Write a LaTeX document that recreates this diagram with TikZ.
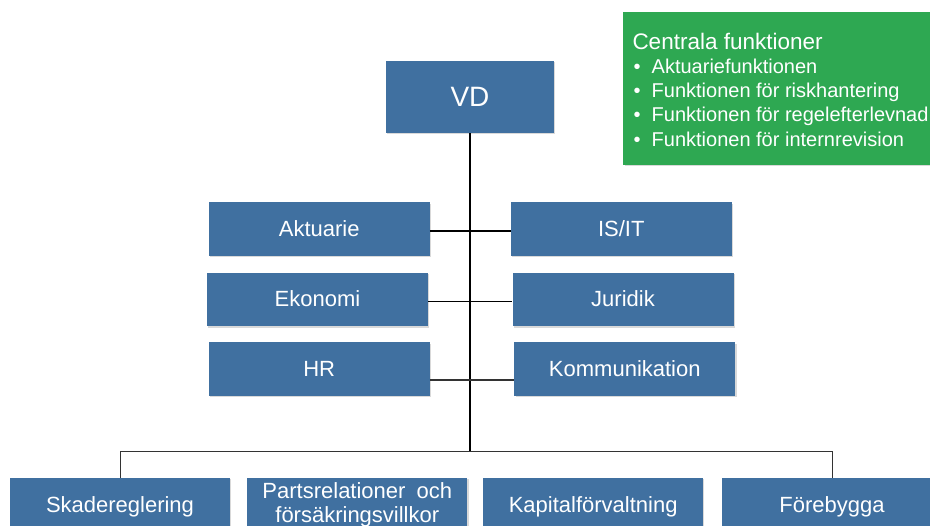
\documentclass[tikz,border=0pt]{standalone}
\usepackage{fontspec}
\setmainfont{Liberation Sans}
\usetikzlibrary{shadows}

\definecolor{boxblue}{RGB}{64,112,160}
\definecolor{boxgreen}{RGB}{46,168,82}

\tikzset{
  softshadow/.style={drop shadow={shadow xshift=1.2pt, shadow yshift=-1.5pt, opacity=0.15, fill=black}},
  unit/.style={fill=boxblue, text=white, inner sep=0pt, softshadow,
               minimum width=221pt, minimum height=53.5pt,
               font=\fontsize{22}{24}\selectfont},
  oneline/.style={text height=19.9pt, text depth=4.7pt},
  link/.style={draw=black, line width=1.2pt},
  greentxt/.style={text=white, inner sep=0pt, anchor=base west},
  bulletdot/.style={text=white, inner sep=0pt, anchor=base, font=\fontsize{20}{22}\selectfont},
}

\begin{document}
\begin{tikzpicture}[x=1pt, y=-1pt]
\clip (0,0) rectangle (930,526);
\fill[white] (0,0) rectangle (930,526);

% top level
\node[unit, minimum width=168pt, minimum height=72pt, font=\fontsize{28}{30}\selectfont] (vd) at (470,97) {VD};

% staff units, left and right column
\node[unit, oneline] (akt)  at (319.2,229)   {Aktuarie};
\node[unit, oneline] (eko)  at (317.5,299.3) {Ekonomi};
\node[unit, oneline] (hr)   at (319.2,369.2) {HR};
\node[unit, oneline] (isit) at (621.3,229)   {IS/IT};
\node[unit, oneline] (jur)  at (623,299.3)   {Juridik};
\node[unit, oneline] (kom)  at (624.8,369.2) {Kommunikation};

% line units
\node[unit, oneline, minimum width=220pt] (skade) at (120,504.5)  {Skadereglering};
\node[unit, minimum width=220pt, align=center] (parts) at (357.3,504.5) {Partsrelationer\hspace{5pt} och\\försäkringsvillkor};
\node[unit, oneline, minimum width=220pt] (kap)   at (593.2,504.5) {Kapitalförvaltning};
\node[unit, oneline, minimum width=220pt] (fore)  at (832,504.5)   {Förebygga};

% central functions
\node[fill=boxgreen, softshadow, minimum width=320pt, minimum height=153pt, inner sep=0pt] (central) at (783.3,88.5) {};
\node[greentxt, font=\fontsize{22.5}{24}\selectfont] (ctitle) at (632.3,50) {Centrala funktioner};
\node[bulletdot] (b1) at (637,73.5)  {•};
\node[bulletdot] (b2) at (637,97.8)  {•};
\node[bulletdot] (b3) at (637,122)   {•};
\node[bulletdot] (b4) at (637,146.3) {•};
\node[greentxt, font=\fontsize{20}{22}\selectfont] (f1) at (651.5,73.5)  {Aktuariefunktionen};
\node[greentxt, font=\fontsize{20}{22}\selectfont] (f2) at (651.5,97.8)  {Funktionen för riskhantering};
\node[greentxt, font=\fontsize{20}{22}\selectfont] (f3) at (651.5,122)   {Funktionen för regelefterlevnad};
\node[greentxt, font=\fontsize{20}{22}\selectfont] (f4) at (651.5,146.3) {Funktionen för internrevision};

% connectors
\coordinate (hub) at (470,452);
\draw[link] (vd.south) -- (hub);
\draw[link] ([yshift=-2pt]akt.east) -- ([yshift=-2pt]isit.west);
\draw[link] ([yshift=-2.4pt]eko.east) -- ([yshift=-2.4pt]jur.west);
\draw[link, draw=black!80] ([yshift=-10.8pt]hr.east) -- ([yshift=-10.8pt]kom.west);
\draw[link, line width=1pt, draw=black!80] (skade.north) -- (skade.north |- hub) -- (fore.north |- hub) -- (fore.north);
\end{tikzpicture}
\end{document}
